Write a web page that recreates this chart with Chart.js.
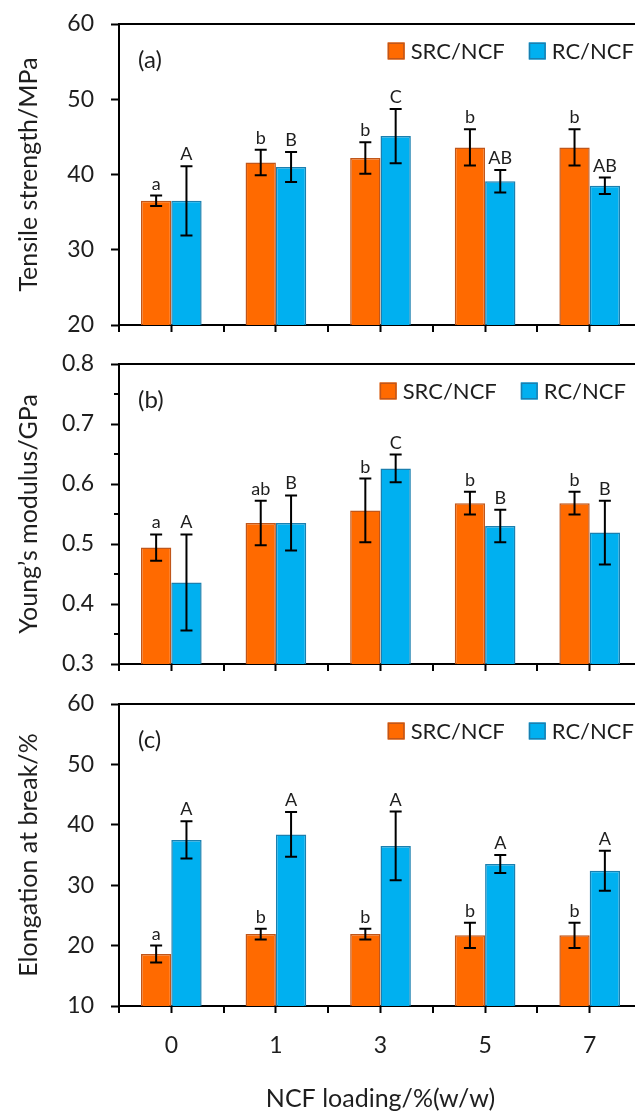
<!DOCTYPE html>
<html>
<head>
<meta charset="utf-8">
<script src="https://cdn.jsdelivr.net/npm/chart.js@4.4.1/dist/chart.umd.min.js"></script>
<style>
  html, body { margin: 0; padding: 0; background: #fff; overflow: hidden; }
  #wrap { position: relative; width: 635px; height: 1115px; overflow: hidden; background: #fff; }
  .pane { position: absolute; left: 0; }
  canvas { display: block; }
</style>
</head>
<body>
<div id="wrap">
  <div class="pane" style="top:0px"><canvas id="chartA" width="660" height="340"></canvas></div>
  <div class="pane" style="top:340px"><canvas id="chartB" width="660" height="340"></canvas></div>
  <div class="pane" style="top:680px"><canvas id="chartC" width="660" height="435"></canvas></div>
</div>
<script>
// ---------------- DATA ----------------
const categories = ['0', '1', '3', '5', '7'];
const seriesNames = ['SRC/NCF', 'RC/NCF'];

// (a) Tensile strength / MPa
const tensileSRC = [36.5, 41.6, 42.2, 43.6, 43.6];
const tensileSRCErr = [0.7, 1.7, 2.1, 2.4, 2.4];
const tensileRC = [36.5, 41.0, 45.1, 39.1, 38.5];
const tensileRCErr = [4.6, 2.0, 3.6, 1.5, 1.1];
const tensileSRCLetters = ['a', 'b', 'b', 'b', 'b'];
const tensileRCLetters = ['A', 'B', 'C', 'AB', 'AB'];
const tensileAxis = [20, 60, 10];

// (b) Young's modulus / GPa
const modulusSRC = [0.494, 0.535, 0.556, 0.568, 0.568];
const modulusSRCErr = [0.022, 0.037, 0.053, 0.019, 0.019];
const modulusRC = [0.436, 0.535, 0.626, 0.530, 0.519];
const modulusRCErr = [0.080, 0.046, 0.023, 0.027, 0.053];
const modulusSRCLetters = ['a', 'ab', 'b', 'b', 'b'];
const modulusRCLetters = ['A', 'B', 'C', 'B', 'B'];
const modulusAxis = [0.3, 0.8, 0.1];

// (c) Elongation at break / %
const elongSRC = [18.6, 21.9, 21.9, 21.7, 21.7];
const elongSRCErr = [1.4, 0.9, 0.9, 2.1, 2.1];
const elongRC = [37.5, 38.4, 36.5, 33.5, 32.4];
const elongRCErr = [3.1, 3.7, 5.7, 1.5, 3.3];
const elongSRCLetters = ['a', 'b', 'b', 'b', 'b'];
const elongRCLetters = ['A', 'A', 'A', 'A', 'A'];
const elongAxis = [10, 60, 10];

// ---------------- STYLE ----------------
const FONT = 'Lato';
const TEXT = '#1e1e1e';
const ORANGE = '#FF6A00', ORANGE_B = '#C0561A';
const BLUE = '#00B0F0', BLUE_B = '#1A7FAF';

const extrasPlugin = {
  id: 'extras',
  afterDatasetsDraw(chart, args, opts) {
    const { ctx, scales: { y } } = chart;
    ctx.save();
    chart.data.datasets.forEach((ds, di) => {
      const meta = chart.getDatasetMeta(di);
      meta.data.forEach((bar, i) => {
        const v = ds.data[i], e = ds.errors[i];
        const yt = y.getPixelForValue(v + e), yb = y.getPixelForValue(v - e);
        const cap = 6;
        ctx.strokeStyle = '#000';
        ctx.lineWidth = 2;
        ctx.beginPath();
        ctx.moveTo(bar.x, yt); ctx.lineTo(bar.x, yb);
        ctx.moveTo(bar.x - cap, yt); ctx.lineTo(bar.x + cap, yt);
        ctx.moveTo(bar.x - cap, yb); ctx.lineTo(bar.x + cap, yb);
        ctx.stroke();
        ctx.fillStyle = TEXT;
        ctx.font = '18px ' + FONT;
        ctx.textAlign = 'center';
        ctx.textBaseline = 'alphabetic';
        ctx.fillText(ds.letters[i], bar.x, yt - 6);
      });
    });
    ctx.restore();
  },
  afterDraw(chart, args, opts) {
    const { ctx, chartArea: a, scales: { x, y } } = chart;
    ctx.save();
    ctx.strokeStyle = '#000';
    ctx.lineWidth = 2;
    // frame top and right
    ctx.beginPath();
    ctx.moveTo(a.left - 1, a.top); ctx.lineTo(a.right, a.top); ctx.lineTo(a.right, a.bottom);
    ctx.stroke();
    // boundary ticks on x axis
    ctx.beginPath();
    for (let i = 0; i <= categories.length; i++) {
      const px = Math.round(x.getPixelForValue(i - 0.5));
      ctx.moveTo(px, a.bottom); ctx.lineTo(px, a.bottom + 7);
    }
    ctx.stroke();
    // minor y ticks
    if (opts.minorStep) {
      ctx.beginPath();
      for (let v = y.min + opts.minorStep; v < y.max; v += 2 * opts.minorStep) {
        const py = Math.round(y.getPixelForValue(v));
        ctx.moveTo(a.left - 5, py); ctx.lineTo(a.left, py);
      }
      ctx.stroke();
    }
    // panel label
    ctx.fillStyle = TEXT;
    ctx.font = '24px ' + FONT;
    ctx.textAlign = 'left';
    ctx.textBaseline = 'middle';
    ctx.fillText(opts.panel, a.left + 19, a.top + 36);
    // legend
    const box = 17, gap = 6, itemGap = 24;
    ctx.font = '22px ' + FONT;
    const items = chart.data.datasets.map(ds => ({ text: ds.label, fill: ds.backgroundColor, stroke: ds.borderColor, w: box + gap + ctx.measureText(ds.label).width }));
    const total = items.reduce((s, it) => s + it.w, 0) + itemGap * (items.length - 1);
    let lx = a.right - opts.legendInset - total;
    const ly = a.top + 27;
    items.forEach(it => {
      ctx.fillStyle = it.fill;
      ctx.fillRect(lx, ly - box / 2, box, box);
      ctx.strokeStyle = it.stroke;
      ctx.lineWidth = 1.5;
      ctx.strokeRect(lx + 0.75, ly - box / 2 + 0.75, box - 1.5, box - 1.5);
      ctx.fillStyle = TEXT;
      ctx.textBaseline = 'middle';
      ctx.fillText(it.text, lx + box + gap, ly + 1);
      lx += it.w + itemGap;
    });
    ctx.restore();
  }
};

function makeChart(id, cfg) {
  const datasets = [
    { label: seriesNames[0], data: cfg.src, errors: cfg.srcErr, letters: cfg.srcLetters,
      backgroundColor: ORANGE, borderColor: ORANGE_B, borderWidth: 1.5,
      categoryPercentage: 0.58, barPercentage: 1.0 },
    { label: seriesNames[1], data: cfg.rc, errors: cfg.rcErr, letters: cfg.rcLetters,
      backgroundColor: BLUE, borderColor: BLUE_B, borderWidth: 1.5,
      categoryPercentage: 0.58, barPercentage: 1.0 }
  ];
  return new Chart(document.getElementById(id), {
    type: 'bar',
    data: { labels: categories, datasets },
    plugins: [extrasPlugin],
    options: {
      responsive: false,
      animation: false,
      devicePixelRatio: 1,
      layout: { padding: { top: 24, right: 18, left: 0, bottom: 0 } },
      plugins: {
        legend: { display: false },
        tooltip: { enabled: false },
        extras: { panel: cfg.panel, legendInset: cfg.legendInset, minorStep: cfg.minorStep }
      },
      scales: {
        x: {
          offset: true,
          grid: { offset: false, drawOnChartArea: false, drawTicks: true, tickLength: 7, tickWidth: 2, tickColor: '#000' },
          border: { display: true, width: 2, color: '#000' },
          ticks: { display: cfg.showX, font: { family: FONT, size: 23 }, color: TEXT, padding: 19 },
          title: { display: cfg.showX, text: 'NCF loading/%(w/w)', font: { family: FONT, size: 25 }, color: TEXT, padding: { top: 0, bottom: 1 } },
          afterFit(s) { s.height = cfg.xHeight; s.paddingLeft = 0; s.paddingRight = 0; }
        },
        y: {
          min: cfg.axis[0], max: cfg.axis[1],
          ticks: { stepSize: cfg.axis[2], font: { family: FONT, size: 23 }, color: TEXT, padding: 17,
                   callback: v => cfg.decimals ? Number(v).toFixed(cfg.decimals) : v },
          grid: { drawOnChartArea: false, drawTicks: true, tickLength: 8, tickWidth: 2, tickColor: '#000' },
          border: { display: true, width: 2, color: '#000' },
          title: { display: true, text: cfg.yTitle, font: { family: FONT, size: 25 }, color: TEXT, padding: { top: 14, bottom: 0 } },
          afterFit(s) { s.width = 119; s.paddingTop = 0; s.paddingBottom = 0; }
        }
      }
    }
  });
}

makeChart('chartA', {
  src: tensileSRC, srcErr: tensileSRCErr, srcLetters: tensileSRCLetters,
  rc: tensileRC, rcErr: tensileRCErr, rcLetters: tensileRCLetters,
  axis: tensileAxis, decimals: 0, yTitle: 'Tensile strength/MPa', panel: '(a)',
  showX: false, xHeight: 15, legendInset: 8, minorStep: 0
});
makeChart('chartB', {
  src: modulusSRC, srcErr: modulusSRCErr, srcLetters: modulusSRCLetters,
  rc: modulusRC, rcErr: modulusRCErr, rcLetters: modulusRCLetters,
  axis: modulusAxis, decimals: 1, yTitle: 'Young\u2019s modulus/GPa', panel: '(b)',
  showX: false, xHeight: 16, legendInset: 16, minorStep: 0.05
});
makeChart('chartC', {
  src: elongSRC, srcErr: elongSRCErr, srcLetters: elongSRCLetters,
  rc: elongRC, rcErr: elongRCErr, rcLetters: elongRCLetters,
  axis: elongAxis, decimals: 0, yTitle: 'Elongation at break/%', panel: '(c)',
  showX: true, xHeight: 109, legendInset: 8, minorStep: 0
});
</script>
</body>
</html>
